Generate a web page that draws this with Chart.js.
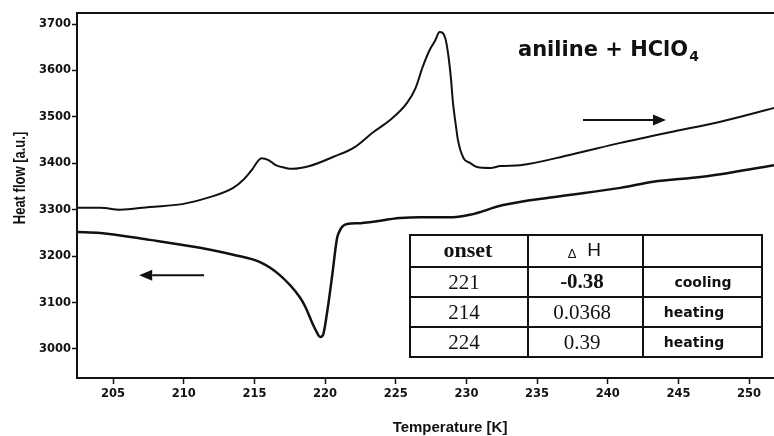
<!DOCTYPE html>
<html>
<head>
<meta charset="utf-8">
<script src="https://cdn.jsdelivr.net/npm/chart.js@4.4.0/dist/chart.umd.min.js"></script>
<style>
  html, body { margin: 0; padding: 0; background: #fff; }
  canvas { display: block; }
</style>
</head>
<body>
<canvas id="dsc" width="774" height="436"></canvas>
<script>
// heating run (upper curve), temperature [K] and heat flow [a.u.]
var heatT = [202.45, 204.1, 205.5, 207.6, 209.9, 211.85, 213.5, 214.2, 214.8, 215.5, 216.0, 216.5, 217.2, 217.7,
             218.9, 220.6, 222.1, 223.4, 224.6, 225.8, 226.4, 226.9, 227.4, 227.8, 228.1, 228.5, 228.7, 228.9,
             229.05, 229.25, 229.4, 229.8, 230.25, 230.75, 231.7, 232.4, 233.8, 237.3, 240.9, 244.4, 247.9, 251.76];
var heatQ = [3304, 3304, 3300, 3306, 3312, 3327, 3347, 3364, 3385, 3411, 3407, 3396, 3390, 3388,
             3394, 3414, 3435, 3467, 3493, 3530, 3562, 3607, 3644, 3665, 3683, 3670, 3637, 3584,
             3530, 3482, 3450, 3411, 3401, 3392, 3390, 3394, 3396, 3418, 3444, 3467, 3489, 3519];

// cooling run (lower curve)
var coolT = [202.45, 204.1, 207.6, 211.15, 213.5, 215.4, 216.8, 218.2, 218.6, 219.15, 219.43, 219.64, 219.85,
             220.14, 220.49, 220.85, 221.06, 221.2, 221.55, 222.5, 225.3, 226.7, 229.05, 230.25, 232.6,
             236.1, 240.9, 243.2, 246.7, 251.76];
var coolQ = [3252, 3250, 3235, 3218, 3203, 3187, 3159, 3112, 3091, 3052, 3035, 3026, 3030,
             3078, 3155, 3239, 3256, 3263, 3269, 3271, 3282, 3284, 3284, 3289, 3310,
             3327, 3347, 3360, 3371, 3396];

// tick labels
var xTicks = [205, 210, 215, 220, 225, 230, 235, 240, 245, 250];
var yTicks = [3000, 3100, 3200, 3300, 3400, 3500, 3600, 3700];

// inset table
var onsets = ['221', '214', '224'];
var deltaH = ['-0.38', '0.0368', '0.39'];
var modes  = ['cooling', 'heating', 'heating'];

function toPoints(xs, ys) {
    return xs.map(function (x, i) { return { x: x, y: ys[i] }; });
}

function arrow(ctx, x0, y0, x1, y1) {
    var dir = x1 > x0 ? 1 : -1;
    var head = 13;
    ctx.beginPath();
    ctx.moveTo(x0, y0);
    ctx.lineTo(x1 - dir * head, y1);
    ctx.stroke();
    ctx.beginPath();
    ctx.moveTo(x1, y1);
    ctx.lineTo(x1 - dir * head, y1 - 5.5);
    ctx.lineTo(x1 - dir * head, y1 + 5.5);
    ctx.closePath();
    ctx.fill();
}

// extras drawn on top: frame, arrows, label, table, axis titles
var overlay = {
    id: 'overlay',
    afterDraw: function (chart) {
        var ctx = chart.ctx, a = chart.chartArea;
        var xs = chart.scales.x, ys = chart.scales.y;
        ctx.save();
        ctx.strokeStyle = '#111';
        ctx.fillStyle = '#111';

        // top frame line
        ctx.lineWidth = 2;
        ctx.beginPath();
        ctx.moveTo(a.left, a.top);
        ctx.lineTo(a.right, a.top);
        ctx.stroke();

        // direction arrows (heating ->, cooling <-)
        ctx.lineWidth = 2;
        arrow(ctx, xs.getPixelForValue(238.25), ys.getPixelForValue(3493),
                   xs.getPixelForValue(244.12), ys.getPixelForValue(3493));
        arrow(ctx, xs.getPixelForValue(211.44), ys.getPixelForValue(3159),
                   xs.getPixelForValue(206.85), ys.getPixelForValue(3159));

        // sample label
        ctx.textBaseline = 'alphabetic';
        ctx.textAlign = 'left';
        ctx.font = 'bold 21px "DejaVu Sans"';
        var lbl = 'aniline + HClO';
        ctx.fillText(lbl, 518, 56);
        var w = ctx.measureText(lbl).width;
        ctx.font = 'bold 14px "DejaVu Sans"';
        ctx.fillText('4', 518 + w + 1, 61);

        // inset table
        var cols = [410, 528, 643, 762];
        var rows = [235, 267, 297, 327, 357];
        ctx.lineWidth = 2;
        ctx.strokeRect(cols[0], rows[0], cols[3] - cols[0], rows[4] - rows[0]);
        ctx.beginPath();
        for (var i = 1; i < 3; i++) {
            ctx.moveTo(cols[i], rows[0]);
            ctx.lineTo(cols[i], rows[4]);
        }
        for (var j = 1; j < 4; j++) {
            ctx.moveTo(cols[0], rows[j]);
            ctx.lineTo(cols[3], rows[j]);
        }
        ctx.stroke();

        ctx.textAlign = 'center';
        ctx.textBaseline = 'middle';
        ctx.font = 'bold 22px "Liberation Serif"';
        ctx.fillText('onset', 468, 251);
        ctx.font = '13px "Liberation Sans"';
        ctx.fillText('\u0394', 572, 254);
        ctx.font = '19px "Liberation Sans"';
        ctx.fillText('H', 594, 251);

        for (var r = 0; r < 3; r++) {
            var cy = (rows[r + 1] + rows[r + 2]) / 2 + 1;
            ctx.font = '21px "Liberation Serif"';
            ctx.fillText(onsets[r], 464, cy);
            ctx.font = (deltaH[r].charAt(0) === '-' ? 'bold ' : '') + '21px "Liberation Serif"';
            ctx.fillText(deltaH[r], 582, cy);
            ctx.font = 'bold 14px "DejaVu Sans"';
            ctx.fillText(modes[r], modes[r] === 'cooling' ? 703 : 694, cy);
        }

        // axis titles
        ctx.font = 'bold 15px "Liberation Sans"';
        ctx.fillText('Temperature [K]', 450, 428);
        ctx.translate(20.5, 178);
        ctx.rotate(-Math.PI / 2);
        ctx.scale(1, 1.2);
        ctx.font = 'bold 13px "Liberation Sans"';
        ctx.fillText('Heat flow [a.u.]', 0, 0);

        ctx.restore();
    }
};

var tickFont = { family: 'DejaVu Sans', size: 11.5, weight: 'bold' };

var myChart = new Chart(document.getElementById('dsc'), {
    type: 'line',
    data: {
        datasets: [{
            label: 'heating',
            data: toPoints(heatT, heatQ),
            borderColor: '#111',
            borderWidth: 2,
            pointRadius: 0,
            cubicInterpolationMode: 'monotone',
            fill: false
        }, {
            label: 'cooling',
            data: toPoints(coolT, coolQ),
            borderColor: '#111',
            borderWidth: 2.5,
            pointRadius: 0,
            cubicInterpolationMode: 'monotone',
            fill: false
        }]
    },
    options: {
        responsive: false,
        animation: false,
        devicePixelRatio: 1,
        layout: { padding: { top: 13, right: 0, left: 0, bottom: 0 } },
        plugins: {
            legend: { display: false },
            tooltip: { enabled: false }
        },
        scales: {
            x: {
                type: 'linear',
                min: 202.45,
                max: 251.76,
                afterBuildTicks: function (s) { s.ticks = xTicks.map(function (v) { return { value: v }; }); },
                afterFit: function (s) { s.height = 58; },
                border: { display: true, color: '#111', width: 2 },
                grid: { drawOnChartArea: false, drawTicks: true, tickLength: 6, tickColor: '#111', tickWidth: 1.5 },
                ticks: { color: '#111', font: tickFont, padding: 3, maxRotation: 0,
                         callback: function (v) { return String(v); } }
            },
            y: {
                type: 'linear',
                min: 2937.5,
                max: 3723.7,
                afterBuildTicks: function (s) { s.ticks = yTicks.map(function (v) { return { value: v }; }); },
                afterFit: function (s) { s.width = 77; },
                border: { display: true, color: '#111', width: 2 },
                grid: { drawOnChartArea: false, drawTicks: true, tickLength: 5, tickColor: '#111', tickWidth: 1.5 },
                ticks: { color: '#111', font: tickFont, padding: 1,
                         callback: function (v) { return String(v); } }
            }
        }
    },
    plugins: [overlay]
});
</script>
</body>
</html>
